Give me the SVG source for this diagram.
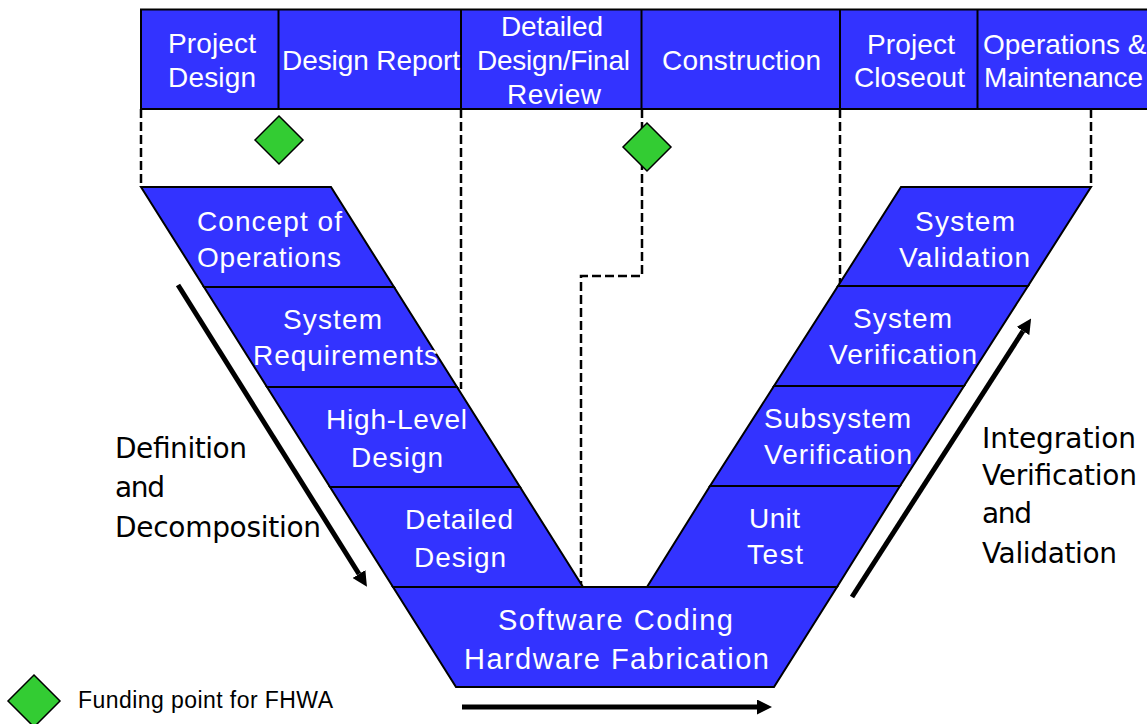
<svg xmlns="http://www.w3.org/2000/svg" width="1147" height="724" viewBox="0 0 1147 724">
  <style>
    .phase { fill: #3333FF; stroke: #000; stroke-width: 2; stroke-linejoin: miter; }
    .div { stroke: #000; stroke-width: 2; }
    .lbl { font-family: "Liberation Sans", Arial, sans-serif; font-size: 28px; fill: #fff; }
    .big { font-size: 29px; }
    .side { font-family: "DejaVu Sans", Verdana, sans-serif; font-size: 28px; fill: #000; }
    .legend { font-family: "Liberation Sans", Arial, sans-serif; font-size: 23px; fill: #000; }
    .fund { fill: #33CC33; stroke: #000; stroke-width: 1.5; }
    .dash { fill: none; stroke: #000; stroke-width: 2.5; stroke-dasharray: 9 4; }
    .flow { fill: none; stroke: #000; stroke-width: 5; marker-end: url(#head); }
  </style>
  <defs>
    <marker id="head" markerUnits="userSpaceOnUse" markerWidth="15" markerHeight="15" viewBox="0 0 15 15" refX="0" refY="7.5" orient="auto">
      <path d="M0,0 L15,7.5 L0,15 z" fill="#000"/>
    </marker>
  </defs>

  <rect width="1147" height="724" fill="#fff"/>

  <!-- project phase banner -->
  <g id="banner">
    <rect class="phase" x="141" y="9.5" width="1040" height="99.5"/>
    <line class="div" x1="278.5" y1="9.5" x2="278.5" y2="109"/>
    <line class="div" x1="461" y1="9.5" x2="461" y2="109"/>
    <line class="div" x1="641.5" y1="9.5" x2="641.5" y2="109"/>
    <line class="div" x1="840" y1="9.5" x2="840" y2="109"/>
    <line class="div" x1="977.5" y1="9.5" x2="977.5" y2="109"/>
  </g>
  <g id="phase-project-design">
    <text class="lbl" x="168" y="53" textLength="88">Project</text>
    <text class="lbl" x="168" y="87" textLength="88">Design</text>
  </g>
  <g id="phase-design-report">
    <text class="lbl" x="282" y="70" textLength="178">Design Report</text>
  </g>
  <g id="phase-final-review">
    <text class="lbl" x="501" y="36" textLength="102">Detailed</text>
    <text class="lbl" x="477" y="70" textLength="153">Design/Final</text>
    <text class="lbl" x="507" y="104" textLength="94">Review</text>
  </g>
  <g id="phase-construction">
    <text class="lbl" x="662" y="70" textLength="159">Construction</text>
  </g>
  <g id="phase-closeout">
    <text class="lbl" x="867" y="54" textLength="88">Project</text>
    <text class="lbl" x="854" y="87" textLength="111">Closeout</text>
  </g>
  <g id="phase-operations">
    <text class="lbl" x="983" y="54">Operations &amp;</text>
    <text class="lbl" x="984" y="87" textLength="159">Maintenance</text>
  </g>

  <!-- connectors: phase boundaries and direction arrows -->
  <g id="connectors">
    <polyline class="dash" points="141,109 141,187"/>
    <polyline class="dash" points="461,109 461,389"/>
    <polyline class="dash" points="642,109 642,276 581,276 581,587"/>
    <polyline class="dash" points="840,109 840,286"/>
    <polyline class="dash" points="1091,109 1091,187"/>
    <line class="flow" x1="178" y1="285" x2="359" y2="574"/>
    <line class="flow" x1="852" y1="597" x2="1023" y2="331"/>
    <line class="flow" x1="462" y1="707" x2="757" y2="707"/>
  </g>

  <!-- left arm: definition and decomposition -->
  <g id="concept-of-operations">
    <polygon class="phase" points="141,187 331,187 394,287 204,287"/>
    <text class="lbl" x="197" y="231" textLength="145">Concept of</text>
    <text class="lbl" x="197" y="267" textLength="144">Operations</text>
  </g>
  <g id="system-requirements">
    <polygon class="phase" points="204,287 394,287 457,387 267,387"/>
    <text class="lbl" x="283" y="329" textLength="99">System</text>
    <text class="lbl" x="253" y="365" textLength="185">Requirements</text>
  </g>
  <g id="high-level-design">
    <polygon class="phase" points="267,387 457,387 520,487 330,487"/>
    <text class="lbl" x="326" y="429" textLength="141">High-Level</text>
    <text class="lbl" x="351" y="467" textLength="92">Design</text>
  </g>
  <g id="detailed-design">
    <polygon class="phase" points="330,487 520,487 583,587 393,587"/>
    <text class="lbl" x="405" y="529" textLength="108">Detailed</text>
    <text class="lbl" x="414" y="567" textLength="92">Design</text>
  </g>

  <!-- base of the V -->
  <g id="coding-fabrication">
    <polygon class="phase" points="393,587 837,587 774,687 456,687"/>
    <text class="lbl big" x="498" y="630" textLength="235">Software Coding</text>
    <text class="lbl big" x="464" y="669" textLength="305">Hardware Fabrication</text>
  </g>

  <!-- right arm: integration, verification and validation -->
  <g id="unit-test">
    <polygon class="phase" points="710,486 900,486 837,587 647,587"/>
    <text class="lbl" x="749" y="528" textLength="51">Unit</text>
    <text class="lbl" x="747" y="564" textLength="56">Test</text>
  </g>
  <g id="subsystem-verification">
    <polygon class="phase" points="774,386 964,386 900,486 710,486"/>
    <text class="lbl" x="764" y="428" textLength="147">Subsystem</text>
    <text class="lbl" x="764" y="464" textLength="148">Verification</text>
  </g>
  <g id="system-verification">
    <polygon class="phase" points="838,286 1028,286 964,386 774,386"/>
    <text class="lbl" x="853" y="328" textLength="99">System</text>
    <text class="lbl" x="829" y="364" textLength="148">Verification</text>
  </g>
  <g id="system-validation">
    <polygon class="phase" points="901,187 1091,187 1028,286 838,286"/>
    <text class="lbl" x="915" y="231" textLength="100">System</text>
    <text class="lbl" x="899" y="267" textLength="131">Validation</text>
  </g>

  <!-- funding points -->
  <g id="funding-design-report">
    <polygon class="fund" points="279,116 303,140 279,164 255,140"/>
  </g>
  <g id="funding-construction">
    <polygon class="fund" points="647,123 671,147 647,171 623,147"/>
  </g>

  <!-- side labels -->
  <g id="label-definition">
    <text class="side" x="115" y="458" textLength="132">Definition</text>
    <text class="side" x="115" y="497" textLength="50">and</text>
    <text class="side" x="115" y="537" textLength="206">Decomposition</text>
  </g>
  <g id="label-integration">
    <text class="side" x="982" y="448" textLength="154">Integration</text>
    <text class="side" x="982" y="485" textLength="155">Verification</text>
    <text class="side" x="982" y="523" textLength="50">and</text>
    <text class="side" x="982" y="563" textLength="135">Validation</text>
  </g>

  <!-- legend -->
  <g id="legend">
    <polygon class="fund" points="34,675 60,701 34,727 8,701"/>
    <text class="legend" x="78" y="708" textLength="255">Funding point for FHWA</text>
  </g>
</svg>
